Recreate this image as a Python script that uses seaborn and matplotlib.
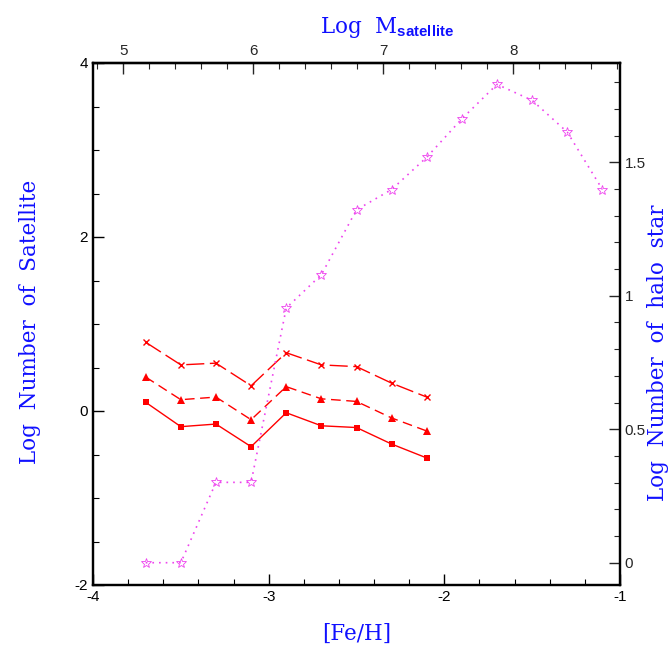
import numpy as np
import pandas as pd
import matplotlib
matplotlib.use("Agg")
import matplotlib.pyplot as plt
from matplotlib.ticker import MultipleLocator, FixedLocator, FuncFormatter
import seaborn as sns

# ---- data ----
feh_sat = [-3.7, -3.5, -3.3, -3.1, -2.9, -2.7, -2.5, -2.3, -2.1]
sat_cross = [0.79, 0.53, 0.55, 0.29, 0.67, 0.53, 0.51, 0.32, 0.16]
sat_tri = [0.39, 0.13, 0.16, -0.10, 0.28, 0.14, 0.11, -0.08, -0.23]
sat_square = [0.10, -0.18, -0.15, -0.41, -0.02, -0.17, -0.19, -0.38, -0.54]

feh_halo = [-3.7, -3.5, -3.3, -3.1, -2.9, -2.7, -2.5, -2.3, -2.1, -1.9, -1.7, -1.5, -1.3, -1.1]
halo = [0.0, 0.0, 0.301, 0.301, 0.954, 1.079, 1.322, 1.398, 1.519, 1.663, 1.792, 1.732, 1.613, 1.398]

mass_ticks = [5, 6, 7, 8]

sns.set_theme(style="ticks")
plt.rcParams["font.family"] = ["Liberation Sans", "DejaVu Sans"]
plt.rcParams["axes.unicode_minus"] = False
plt.rcParams["mathtext.fontset"] = "custom"
plt.rcParams["mathtext.rm"] = "DejaVu Serif"
plt.rcParams["mathtext.sf"] = "Liberation Sans:bold"

fig = plt.figure(figsize=(6.69, 6.55), dpi=100)
ax = fig.add_axes([93/669, 1-585/655, 527/669, 522/655])

red = "#ff0000"
mag = "#ee44ee"

sns.lineplot(x=feh_sat, y=sat_cross, ax=ax, color=red, marker="x", markersize=5,
             markeredgewidth=1.0, markeredgecolor=red, linewidth=1.0,
             linestyle=(0, (13, 4)))
sns.lineplot(x=feh_sat, y=sat_tri, ax=ax, color=red, marker="^", markersize=5.5,
             markeredgewidth=0, linewidth=1.0, linestyle=(0, (7, 4)))
sns.lineplot(x=feh_sat, y=sat_square, ax=ax, color=red, marker="s", markersize=5,
             markeredgewidth=0, linewidth=1.0, linestyle="-")

ax.set_xlim(-4, -1)
ax.set_ylim(-2, 4)
ax.xaxis.set_major_locator(MultipleLocator(1))
ax.xaxis.set_minor_locator(MultipleLocator(0.2))
ax.yaxis.set_major_locator(MultipleLocator(2))
ax.yaxis.set_minor_locator(MultipleLocator(0.5))

ax2 = ax.twinx()
sns.lineplot(x=feh_halo, y=halo, ax=ax2, color=mag, marker="*", markersize=7,
             markerfacecolor="none", markeredgecolor=mag, markeredgewidth=0.6,
             linewidth=1.2, linestyle=(0, (1, 3)))
ax2.set_ylim(-0.0835, 1.872)
ax2.yaxis.set_major_locator(MultipleLocator(0.5))
ax2.yaxis.set_minor_locator(MultipleLocator(0.1))
ax2.yaxis.set_major_formatter(FuncFormatter(lambda v, p: f"{v:g}"))

def feh_to_m(x):
    return 5 + (np.asarray(x) + 3.8275) / 0.740

def m_to_feh(m):
    return (np.asarray(m) - 5) * 0.740 - 3.8275

sec = ax.secondary_xaxis("top", functions=(feh_to_m, m_to_feh))
sec.xaxis.set_major_locator(FixedLocator(mass_ticks))
sec.xaxis.set_minor_locator(FixedLocator(list(np.arange(4.8, 8.81, 0.2))))

blue = "#1010ff"
lab = dict(family="DejaVu Serif", fontsize=15.5, color=blue)
ax.set_xlabel("[Fe/H]", labelpad=14, **lab)
ax.set_ylabel("Log  Number  of  Satellite", labelpad=24, y=0.504, **lab)
ax2.set_ylabel("Log  Number  of  halo  star", labelpad=1, y=0.444, **lab)
sec.set_xlabel(r"Log  M$_{\mathsf{satellite}}$", labelpad=8, x=0.558, **lab)

for a in (ax, ax2, sec):
    for s in a.spines.values():
        s.set_linewidth(1.6)
        s.set_color("black")
ax.tick_params(which="both", direction="in", labelsize=11, colors="black", top=False, right=False)
ax.tick_params(which="major", length=8, width=1.0)
ax.tick_params(which="minor", length=4, width=0.8)
ax2.tick_params(which="both", direction="in", labelsize=11, left=False)
ax2.tick_params(which="major", length=8, width=1.0)
ax2.tick_params(which="minor", length=4, width=0.8)
sec.tick_params(which="both", direction="in", labelsize=11)
sec.tick_params(which="major", length=8, width=1.0)
sec.tick_params(which="minor", length=4, width=0.8)

fig.savefig("out.png", dpi=100)
